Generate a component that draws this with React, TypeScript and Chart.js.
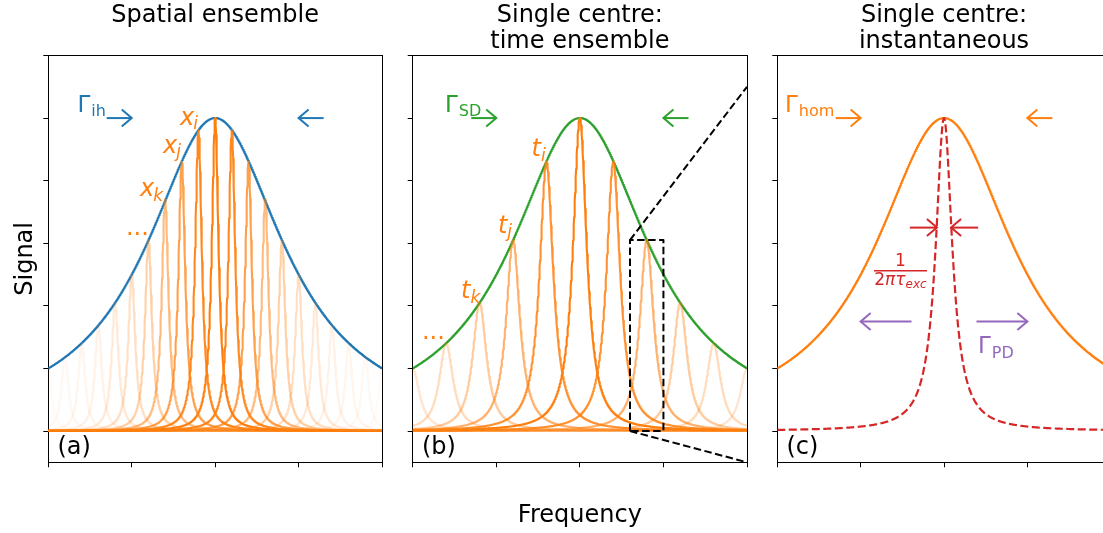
import React, { useEffect, useRef } from 'react';
import { Chart, registerables } from 'chart.js';

Chart.register(...registerables);

const FIG_W = 1103;
const FIG_H = 533;
const FONT = "'DejaVu Sans', 'Liberation Sans', sans-serif";

const BLUE = '#1f77b4';
const ORANGE = '#ff7f0e';
const GREEN = '#2ca02c';
const RED = '#d62728';
const PURPLE = '#9467bd';
const orange = (a: number) => `rgba(255,127,14,${a})`;

// ---- axes -------------------------------------------------------------
const FREQ_MIN = -2;
const FREQ_MAX = 2;
const SIGNAL_MIN = -0.1;
const SIGNAL_MAX = 1.2;
const FREQ_TICKS = [-2, -1, 0, 1, 2];
const SIGNAL_TICKS = [0, 0.2, 0.4, 0.6, 0.8, 1.0, 1.2];

// ---- line-shape parameters -------------------------------------------
// broad inhomogeneous / spectral-diffusion / homogeneous envelope
const ENVELOPE_CENTRE = 0;
const ENVELOPE_PEAK = 1.0;
const ENVELOPE_HWHM = 1.0;

// (a) spatial ensemble: one narrow line per site
const SITE_CENTRES = [-2.0, -1.8, -1.6, -1.4, -1.2, -1.0, -0.8, -0.6, -0.4, -0.2, 0, 0.2, 0.4, 0.6, 0.8, 1.0, 1.2, 1.4, 1.6, 1.8, 2.0];
const SITE_PEAKS = [0.2, 0.24, 0.28, 0.34, 0.41, 0.5, 0.61, 0.74, 0.86, 0.96, 1.0, 0.96, 0.86, 0.74, 0.61, 0.5, 0.41, 0.34, 0.28, 0.24, 0.2];
const SITE_HWHM = 0.05;

// (b) single centre sampled at successive times
const TIME_CENTRES = [-2.0, -1.6, -1.2, -0.8, -0.4, 0, 0.4, 0.8, 1.2, 1.6, 2.0];
const TIME_PEAKS = [0.2, 0.28, 0.41, 0.61, 0.86, 1.0, 0.86, 0.61, 0.41, 0.28, 0.2];
const TIME_HWHM = 0.1;

// (c) lifetime-limited line
const LIFETIME_CENTRE = 0;
const LIFETIME_PEAK = 1.0;
const LIFETIME_HWHM = 0.12;

// zoom box and its connectors in (b)
const ZOOM_BOX_X = [0.6, 0.6, 1.0, 1.0, 0.6];
const ZOOM_BOX_Y = [0, 0.61, 0.61, 0, 0];
const ZOOM_UPPER_X = [0.6, 2.0];
const ZOOM_UPPER_Y = [0.61, 1.1];
const ZOOM_LOWER_X = [0.6, 2.0];
const ZOOM_LOWER_Y = [0, -0.1];

// ---- styling -----------------------------------------------------------
const SITE_OPACITY = [0.04, 0.056, 0.08, 0.11, 0.17, 0.25, 0.37, 0.54, 0.74, 0.92, 1, 0.92, 0.74, 0.54, 0.37, 0.25, 0.17, 0.11, 0.08, 0.056, 0.04];
const TIME_OPACITY = [0.2, 0.28, 0.41, 0.61, 0.86, 1, 0.86, 0.61, 0.41, 0.28, 0.2];

// plot rectangles of the three panels (canvas pixels)
const PANEL_AREAS = [
  { left: 48.3, right: 382, canvasW: FIG_W },
  { left: 412.7, right: 747, canvasW: FIG_W },
  { left: 777.3, right: 1110.7, canvasW: 1120 },
];
const AREA_TOP = 55.5;
const AREA_BOTTOM = 462.3;
const GUTTER = 10;
const TITLE_BASELINES = [21.5, 47.5];
const LINE_W = 2.1;

// ---- helpers -----------------------------------------------------------
const FREQ_STEP = 0.004;
const FREQ_GRID: number[] = Array.from(
  { length: Math.round((FREQ_MAX - FREQ_MIN) / FREQ_STEP) + 1 },
  (_, i) => +(FREQ_MIN + i * FREQ_STEP).toFixed(4)
);

const lorentzian = (f: number, centre: number, hwhm: number, peak: number) =>
  peak / (1 + ((f - centre) / hwhm) ** 2);

const profile = (centre: number, hwhm: number, peak: number) =>
  FREQ_GRID.map((f) => ({ x: f, y: lorentzian(f, centre, hwhm, peak) }));

const zipPts = (xs: number[], ys: number[]) => xs.map((x, i) => ({ x, y: ys[i] }));

function lineSet(data: any[], color: string, order: number, dash: number[] = [], width = LINE_W) {
  return {
    data,
    borderColor: color,
    borderWidth: width,
    borderDash: dash,
    borderCapStyle: 'butt',
    borderJoinStyle: 'round',
    pointRadius: 0,
    fill: false,
    tension: 0,
    order,
    xAxisID: 'x',
    yAxisID: 'y',
  };
}

type MathLabel = {
  x: number;
  y: number;
  text: string;
  sub?: string;
  color: string;
  size: number;
  italic?: boolean;
  subSize?: number;
  subItalic?: boolean;
  subDrop?: number;
  subGap?: number;
};
type Arrow = { from: [number, number]; to: [number, number]; color: string };
type Fraction = {
  x0: number; x1: number; barY: number;
  num: string; numY: number;
  den: string; denSub: string; denY: number;
  color: string;
};
type PanelNotes = {
  title: string[];
  labels: MathLabel[];
  arrows: Arrow[];
  fraction?: Fraction;
  extra?: (chart: any) => void;
};

const fontOf = (size: number, italic?: boolean) => `${italic ? 'italic ' : ''}${size}px ${FONT}`;

function drawArrow(ctx: CanvasRenderingContext2D, x0: number, y0: number, x1: number, y1: number, color: string) {
  const ang = Math.atan2(y1 - y0, x1 - x0);
  const c = Math.cos(ang);
  const s = Math.sin(ang);
  const L = 10;
  const W = 8.5;
  ctx.strokeStyle = color;
  ctx.lineWidth = 2;
  ctx.lineCap = 'butt';
  ctx.lineJoin = 'miter';
  ctx.setLineDash([]);
  ctx.beginPath();
  ctx.moveTo(x0, y0);
  ctx.lineTo(x1, y1);
  ctx.stroke();
  const bx = x1 - L * c;
  const by = y1 - L * s;
  ctx.beginPath();
  ctx.moveTo(bx - W * s, by + W * c);
  ctx.lineTo(x1, y1);
  ctx.lineTo(bx + W * s, by - W * c);
  ctx.stroke();
}

function notesPlugin(notes: PanelNotes) {
  return {
    id: 'panelNotes',
    afterDraw(chart: any) {
      const { ctx, chartArea } = chart;
      const px = (v: number) => chart.scales.x.getPixelForValue(v);
      const py = (v: number) => chart.scales.y.getPixelForValue(v);
      ctx.save();
      ctx.textBaseline = 'alphabetic';

      // panel title
      ctx.fillStyle = '#000';
      ctx.font = fontOf(24);
      ctx.textAlign = 'center';
      const cx = (chartArea.left + chartArea.right) / 2;
      notes.title.forEach((line, i) => ctx.fillText(line, cx, TITLE_BASELINES[i]));

      // arrows
      notes.arrows.forEach((a) =>
        drawArrow(ctx, px(a.from[0]), py(a.from[1]), px(a.to[0]), py(a.to[1]), a.color)
      );

      // labels with optional subscript
      ctx.textAlign = 'left';
      notes.labels.forEach((l) => {
        const x = px(l.x);
        const y = py(l.y);
        ctx.fillStyle = l.color;
        ctx.font = fontOf(l.size, l.italic);
        ctx.fillText(l.text, x, y);
        if (l.sub) {
          const w = ctx.measureText(l.text).width;
          ctx.font = fontOf(l.subSize ?? Math.round(l.size * 0.7), l.subItalic);
          ctx.fillText(l.sub, x + w + (l.subGap ?? 0), y + (l.subDrop ?? 4.5));
        }
      });

      // stacked fraction
      const fr = notes.fraction;
      if (fr) {
        const xa = px(fr.x0);
        const xb = px(fr.x1);
        const xm = (xa + xb) / 2;
        ctx.fillStyle = fr.color;
        ctx.strokeStyle = fr.color;
        ctx.lineWidth = 1.5;
        ctx.beginPath();
        ctx.moveTo(xa, py(fr.barY));
        ctx.lineTo(xb, py(fr.barY));
        ctx.stroke();
        ctx.textAlign = 'center';
        ctx.font = fontOf(17);
        ctx.fillText(fr.num, xm, py(fr.numY));
        ctx.textAlign = 'left';
        ctx.font = fontOf(17);
        const w2 = ctx.measureText(fr.den[0]).width;
        ctx.font = fontOf(17, true);
        const wg = ctx.measureText(fr.den.slice(1)).width;
        ctx.font = fontOf(12, true);
        const ws = ctx.measureText(fr.denSub).width;
        let x = xm - (w2 + wg + ws) / 2;
        const y = py(fr.denY);
        ctx.font = fontOf(17);
        ctx.fillText(fr.den[0], x, y);
        x += w2;
        ctx.font = fontOf(17, true);
        ctx.fillText(fr.den.slice(1), x, y);
        x += wg;
        ctx.font = fontOf(12, true);
        ctx.fillText(fr.denSub, x, y + 3);
      }

      if (notes.extra) notes.extra(chart);
      ctx.restore();
    },
  };
}

function panelConfig(area: { left: number; right: number; canvasW: number }, datasets: any[], notes: PanelNotes) {
  const tickGrid = {
    display: true,
    drawOnChartArea: false,
    drawTicks: true,
    tickLength: 5,
    color: '#000',
    lineWidth: 1,
  };
  const border = { display: true, color: '#000', width: 1 };
  return {
    type: 'line',
    data: { datasets },
    plugins: [notesPlugin(notes)],
    options: {
      responsive: false,
      maintainAspectRatio: false,
      devicePixelRatio: 1,
      animation: false,
      events: [],
      layout: {
        autoPadding: false,
        padding: {
          left: area.left - GUTTER,
          right: area.canvasW - area.right,
          top: AREA_TOP,
          bottom: FIG_H - AREA_BOTTOM - GUTTER,
        },
      },
      plugins: {
        legend: { display: false },
        tooltip: { enabled: false },
        title: { display: false },
      },
      scales: {
        x: {
          type: 'linear',
          axis: 'x',
          position: 'bottom',
          min: FREQ_MIN,
          max: FREQ_MAX,
          ticks: { display: false },
          grid: tickGrid,
          border,
          afterBuildTicks: (s: any) => { s.ticks = FREQ_TICKS.map((v) => ({ value: v })); },
          afterFit: (s: any) => { s.height = GUTTER; },
        },
        y: {
          type: 'linear',
          axis: 'y',
          position: 'left',
          min: SIGNAL_MIN,
          max: SIGNAL_MAX,
          ticks: { display: false },
          grid: tickGrid,
          border,
          afterBuildTicks: (s: any) => { s.ticks = SIGNAL_TICKS.map((v) => ({ value: v })); },
          afterFit: (s: any) => { s.width = GUTTER; },
        },
        xTop: {
          type: 'linear',
          axis: 'x',
          position: 'top',
          min: FREQ_MIN,
          max: FREQ_MAX,
          ticks: { display: false },
          grid: { display: false, drawTicks: false },
          border,
          afterFit: (s: any) => { s.height = 0; },
        },
        yRight: {
          type: 'linear',
          axis: 'y',
          position: 'right',
          min: SIGNAL_MIN,
          max: SIGNAL_MAX,
          ticks: { display: false },
          grid: { display: false, drawTicks: false },
          border,
          afterFit: (s: any) => { s.width = 0; },
        },
      },
    },
  };
}

// ---- panel (a) -----------------------------------------------------------
function spatialConfig() {
  const datasets = [
    lineSet(profile(ENVELOPE_CENTRE, ENVELOPE_HWHM, ENVELOPE_PEAK), BLUE, 2),
    ...SITE_CENTRES.map((c, i) =>
      lineSet(profile(c, SITE_HWHM, SITE_PEAKS[i]), orange(SITE_OPACITY[i]), 1 - SITE_OPACITY[i])
    ),
  ];
  const notes: PanelNotes = {
    title: ['Spatial ensemble'],
    arrows: [
      { from: [-1.3, 1.0], to: [-1.0, 1.0], color: BLUE },
      { from: [1.3, 1.0], to: [1.0, 1.0], color: BLUE },
    ],
    labels: [
      { x: -1.65, y: 1.02, text: 'Γ', sub: 'ih', color: BLUE, size: 23, subSize: 16, subGap: 1 },
      { x: -0.42, y: 0.979, text: 'x', sub: 'i', color: ORANGE, size: 24, italic: true, subSize: 17, subItalic: true, subGap: -1 },
      { x: -0.625, y: 0.889, text: 'x', sub: 'j', color: ORANGE, size: 24, italic: true, subSize: 17, subItalic: true, subGap: -1 },
      { x: -0.9, y: 0.75, text: 'x', sub: 'k', color: ORANGE, size: 24, italic: true, subSize: 17, subItalic: true, subGap: -1 },
      { x: -1.07, y: 0.625, text: '...', color: ORANGE, size: 24 },
      { x: -1.89, y: -0.074, text: '(a)', color: '#000', size: 24 },
    ],
    extra: (chart: any) => {
      const { ctx } = chart;
      ctx.save();
      ctx.fillStyle = '#000';
      ctx.font = fontOf(24);
      ctx.textAlign = 'center';
      ctx.translate(31.5, (AREA_TOP + AREA_BOTTOM) / 2);
      ctx.rotate(-Math.PI / 2);
      ctx.fillText('Signal', 0, 0);
      ctx.restore();
    },
  };
  return panelConfig(PANEL_AREAS[0], datasets, notes);
}

// ---- panel (b) -----------------------------------------------------------
function timeConfig() {
  const dash = [7.5, 3.5];
  const datasets = [
    lineSet(profile(ENVELOPE_CENTRE, ENVELOPE_HWHM, ENVELOPE_PEAK), GREEN, 2),
    ...TIME_CENTRES.map((c, i) =>
      lineSet(profile(c, TIME_HWHM, TIME_PEAKS[i]), orange(TIME_OPACITY[i]), 1 - TIME_OPACITY[i])
    ),
    lineSet(zipPts(ZOOM_BOX_X, ZOOM_BOX_Y), '#000', -1, dash, 2),
    lineSet(zipPts(ZOOM_UPPER_X, ZOOM_UPPER_Y), '#000', -1, dash, 2),
    lineSet(zipPts(ZOOM_LOWER_X, ZOOM_LOWER_Y), '#000', -1, dash, 2),
  ];
  const notes: PanelNotes = {
    title: ['Single centre:', 'time ensemble'],
    arrows: [
      { from: [-1.3, 1.0], to: [-1.0, 1.0], color: GREEN },
      { from: [1.3, 1.0], to: [1.0, 1.0], color: GREEN },
    ],
    labels: [
      { x: -1.614, y: 1.02, text: 'Γ', sub: 'SD', color: GREEN, size: 23, subSize: 16, subGap: 1 },
      { x: -0.578, y: 0.878, text: 't', sub: 'i', color: ORANGE, size: 24, italic: true, subSize: 17, subItalic: true, subGap: 0 },
      { x: -0.98, y: 0.633, text: 't', sub: 'j', color: ORANGE, size: 24, italic: true, subSize: 17, subItalic: true, subGap: 0 },
      { x: -1.422, y: 0.424, text: 't', sub: 'k', color: ORANGE, size: 24, italic: true, subSize: 17, subItalic: true, subGap: 0 },
      { x: -1.89, y: 0.294, text: '...', color: ORANGE, size: 24 },
      { x: -1.89, y: -0.074, text: '(b)', color: '#000', size: 24 },
    ],
    extra: (chart: any) => {
      const { ctx, chartArea } = chart;
      ctx.save();
      ctx.fillStyle = '#000';
      ctx.font = fontOf(24);
      ctx.textAlign = 'center';
      ctx.fillText('Frequency', (chartArea.left + chartArea.right) / 2, 522);
      ctx.restore();
    },
  };
  return panelConfig(PANEL_AREAS[1], datasets, notes);
}

// ---- panel (c) -----------------------------------------------------------
function instantConfig() {
  const datasets = [
    lineSet(profile(ENVELOPE_CENTRE, ENVELOPE_HWHM, ENVELOPE_PEAK), ORANGE, 1),
    lineSet(profile(LIFETIME_CENTRE, LIFETIME_HWHM, LIFETIME_PEAK), RED, 0, [8, 3.5], 2.2),
  ];
  const notes: PanelNotes = {
    title: ['Single centre:', 'instantaneous'],
    arrows: [
      { from: [-1.3, 1.0], to: [-1.0, 1.0], color: ORANGE },
      { from: [1.3, 1.0], to: [1.0, 1.0], color: ORANGE },
      { from: [-0.41, 0.65], to: [-0.085, 0.65], color: RED },
      { from: [0.41, 0.65], to: [0.085, 0.65], color: RED },
      { from: [-0.39, 0.35], to: [-1.0, 0.35], color: PURPLE },
      { from: [0.39, 0.35], to: [1.0, 0.35], color: PURPLE },
    ],
    labels: [
      { x: -1.908, y: 1.02, text: 'Γ', sub: 'hom', color: ORANGE, size: 23, subSize: 16, subGap: 1 },
      { x: 0.408, y: 0.249, text: 'Γ', sub: 'PD', color: PURPLE, size: 23, subSize: 16, subGap: 1 },
      { x: -1.89, y: -0.074, text: '(c)', color: '#000', size: 24 },
    ],
    fraction: {
      x0: -0.84, x1: -0.204, barY: 0.512,
      num: '1', numY: 0.528,
      den: '2πτ', denSub: 'exc', denY: 0.465,
      color: RED,
    },
  };
  return panelConfig(PANEL_AREAS[2], datasets, notes);
}

function ChartLayer({ build, width }: { build: () => any; width: number }) {
  const ref = useRef<HTMLCanvasElement | null>(null);
  useEffect(() => {
    if (!ref.current) return;
    const chart = new Chart(ref.current, build());
    return () => chart.destroy();
  }, [build]);
  return (
    <canvas
      ref={ref}
      width={width}
      height={FIG_H}
      style={{ position: 'absolute', left: 0, top: 0, width, height: FIG_H }}
    />
  );
}

export default function App() {
  return (
    <div
      style={{
        position: 'absolute',
        left: 0,
        top: 0,
        width: FIG_W,
        height: FIG_H,
        overflow: 'hidden',
        background: '#fff',
      }}
    >
      <ChartLayer build={spatialConfig} width={PANEL_AREAS[0].canvasW} />
      <ChartLayer build={timeConfig} width={PANEL_AREAS[1].canvasW} />
      <ChartLayer build={instantConfig} width={PANEL_AREAS[2].canvasW} />
    </div>
  );
}
